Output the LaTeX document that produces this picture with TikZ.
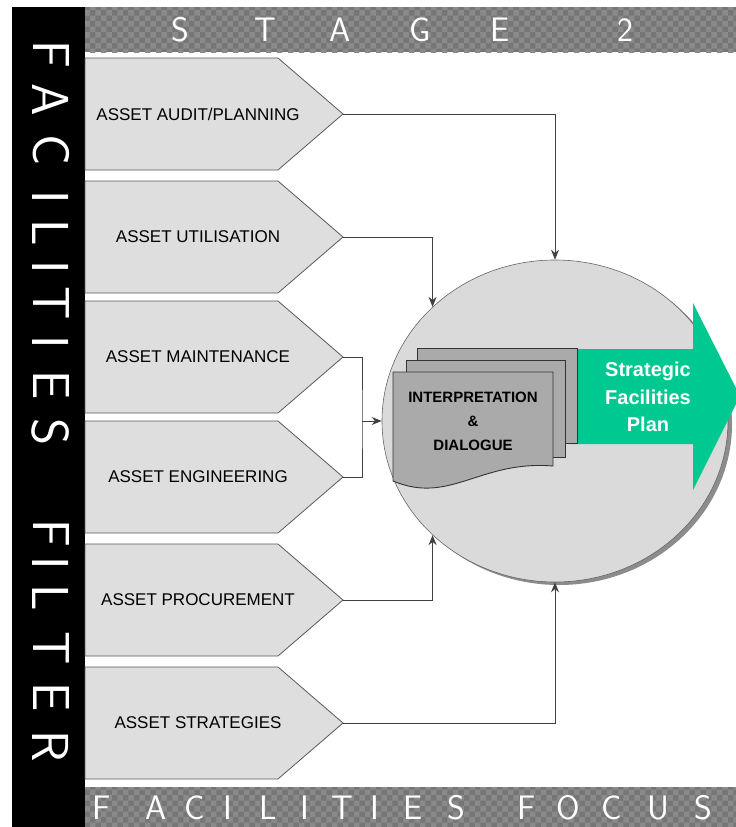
\documentclass[tikz,border=0pt]{standalone}
\usepackage{fontspec}
\setmainfont{Liberation Sans}
\usetikzlibrary{shapes.geometric,patterns,arrows.meta}

\definecolor{barbase}{RGB}{118,118,118}
\definecolor{barcheck}{RGB}{138,138,138}
\definecolor{chevronfill}{RGB}{222,222,222}
\definecolor{hubfill}{RGB}{218,218,218}
\definecolor{pagefill}{RGB}{170,170,170}
\definecolor{planfill}{RGB}{0,200,145}

\begin{document}
\begin{tikzpicture}[
    x=1pt, y=-1pt,
    >={Stealth[length=10pt, width=8pt]},
    chevron/.style={draw=black!65, fill=chevronfill, line width=0.8pt},
    link/.style={draw=black!75, line width=0.9pt},
    page/.style={draw=black!80, fill=pagefill, line width=0.9pt},
    barletter/.style={text=white, font=\sffamily\fontsize{34}{34}\selectfont, inner sep=0pt},
    sideletter/.style={text=white, font=\sffamily\fontsize{52}{52}\selectfont, rotate=-90, inner sep=0pt},
    label_style/.style={font=\fontsize{17}{19}\selectfont, inner sep=0pt}
]
\useasboundingbox (0,0) rectangle (736,827);

% Draw bars
\fill[black] (12,7) rectangle (85,827);
\fill[barbase] (85,7) rectangle (736,52);
\fill[pattern=checkerboard, pattern color=barcheck] (85,7) rectangle (736,52);
\fill[barbase] (85,787) rectangle (736,827);
\fill[pattern=checkerboard, pattern color=barcheck] (85,787) rectangle (736,827);

% Bar letters
\foreach \ch/\px [count=\i] in {S/180,T/265,A/340,G/420,E/500,2/625}
    \node[barletter] (stage\i) at (\px,30) {\ch};
\foreach \ch/\px [count=\i] in {F/102,A/156,C/195,I/228,L/268,I/305,T/342,I/375,E/413,S/456,F/527,O/568,C/612,U/658,S/703}
    \node[barletter] (focus\i) at (\px,808) {\ch};
\foreach \ch/\py [count=\i] in {F/54,A/100,C/150,I/197,L/233,I/267,T/303,I/342,E/385,S/432,F/533,I/563,L/598,T/648,E/697,R/746}
    \node[sideletter] (filter\i) at (51,\py) {\ch};

% Draw the chevrons
\foreach \ty/\txt [count=\i] in {114/ASSET AUDIT{/}PLANNING, 237/ASSET UTILISATION, 357/ASSET MAINTENANCE, 477/ASSET ENGINEERING, 600/ASSET PROCUREMENT, 723/ASSET STRATEGIES} {
    \filldraw[chevron] (85,\ty-56) -- (278,\ty-56) -- (343,\ty) -- (278,\ty+56) -- (85,\ty+56) -- cycle;
    \node[label_style] (lab\i) at (198,\ty) {\txt};
    \coordinate (tip\i) at (343,\ty);
}

% Hub with its shadow
\fill[black!45] (559,424) ellipse [x radius=173, y radius=161];
\node[ellipse, draw=black!60, fill=hubfill, line width=0.6pt, minimum width=346, minimum height=322, inner sep=0pt] (hub) at (555,421) {};

% Plan arrow and pages
\fill[planfill] (570,349) -- (693,349) -- (693,303) -- (740,396) -- (693,490) -- (693,444) -- (570,444) -- cycle;
\node[font=\bfseries\fontsize{20}{27.5}\selectfont, text=white, align=center] (plan) at (648,397) {Strategic\\Facilities\\Plan};
\filldraw[page] (417,348) rectangle (577,443);
\filldraw[page] (406,360) rectangle (565,457);
\filldraw[page] (393,372) -- (553,372) -- (553,466) .. controls (480,460) and (450,505) .. (393,481) -- cycle;
\node[font=\bfseries\fontsize{15}{24}\selectfont, align=center] (interp) at (473,421) {INTERPRETATION\\\&\\DIALOGUE};

% Connectors
\coordinate (join) at (362,421);
\draw[link,->] (tip1) -| (hub.north);
\draw[link,->] (tip2) -| (hub.137);
\draw[link] (tip3) -| (join) |- (tip4);
\draw[link,->] (join) -- (hub.west);
\draw[link,->] (tip5) -| (hub.223);
\draw[link,->] (tip6) -| (hub.south);

\end{tikzpicture}
\end{document}
